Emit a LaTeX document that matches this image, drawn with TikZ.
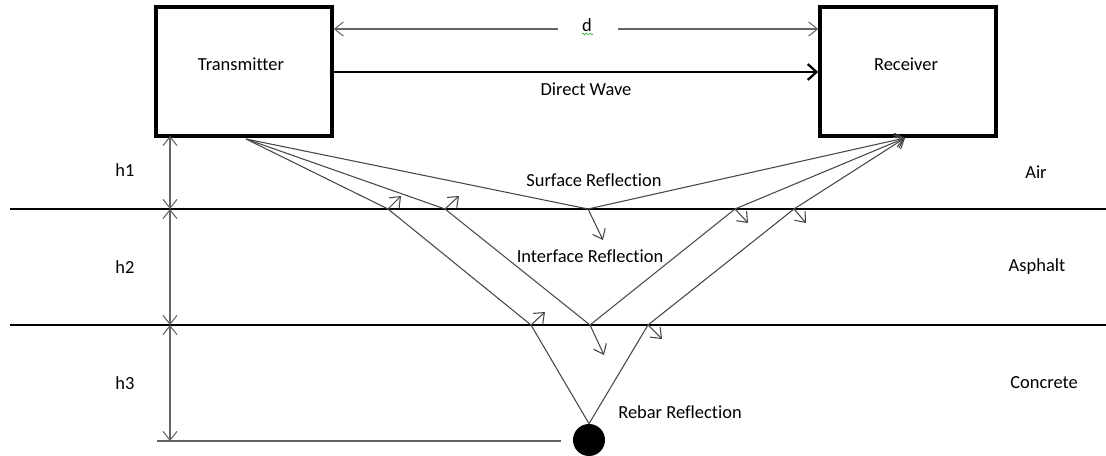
\documentclass[tikz,border=0pt]{standalone}
\usepackage{fontspec}
\setmainfont{Carlito}[Ligatures=NoCommon]
\usepackage{xcolor}
\usepackage{tikz}
\usetikzlibrary{arrows.meta,positioning,decorations.pathmorphing}
\definecolor{raygray}{RGB}{70, 70, 70}
\definecolor{dimgray}{RGB}{100, 100, 100}
\definecolor{spellgreen}{RGB}{60, 170, 60}

\begin{document}
\begin{tikzpicture}[x=0.02cm, y=-0.02cm, font=\fontsize{10.5}{12}\selectfont,
        box/.style={rectangle, draw=black, line width=2pt, minimum width=3.52cm, minimum height=2.58cm, inner sep=0pt},
        layer/.style={draw=black, line width=1.2pt},
        ray/.style={draw=raygray, line width=0.6pt},
        bounce/.style={->, >={Straight Barb[length=5pt, width=8pt]}, draw=raygray, line width=0.6pt},
        dim/.style={<->, >={Straight Barb[length=5pt, width=8pt]}, draw=dimgray, line width=0.6pt},
        dimend/.style={->, >={Straight Barb[length=5pt, width=8pt]}, draw=dimgray, line width=0.6pt},
        wave/.style={->, >={Straight Barb[length=5pt, width=9pt]}, line width=1.3pt},
        lbl/.style={inner sep=1pt}
    ]
        \useasboundingbox (0,0) rectangle (1106,456);
        % antennas
        \node[box] (tx) at (244,71.5) {};
        \node[box] (rx) at (908,71.5) {};
        \node[lbl] (txlbl) at (241,64) {Transmitter};
        \node[lbl] (rxlbl) at (906,64) {Receiver};
        % distance and direct wave
        \node[lbl] (dlbl) at (587,25) {d};
        \draw[spellgreen, line width=0.4pt, decorate, decoration={snake, amplitude=0.5pt, segment length=2pt}] (582,34) -- (593,34);
        \coordinate (dl) at (558,29);
        \coordinate (dr) at (618,29);
        \draw[dimend] (dl) -- (tx.east |- dl);
        \draw[dimend] (dr) -- (rx.west |- dr);
        \draw[wave] (tx.east |- 0,72) -- (rx.west |- 0,72);
        \node[lbl] (dwlbl) at (586,89) {Direct Wave};
        % layers
        \draw[layer] (10,209) -- (1106,209);
        \draw[layer] (10,325) -- (1106,325);
        \draw[draw=dimgray, line width=0.8pt] (157,441) -- (561,441);
        \coordinate (top) at (170,136);
        \coordinate (surf) at (170,209);
        \coordinate (intf) at (170,325);
        \coordinate (base) at (170,441);
        \draw[dim] (top) -- (surf);
        \draw[dim] (surf) -- (intf);
        \draw[dim] (intf) -- (base);
        \node[lbl] (h1) at (125,170) {h1};
        \node[lbl] (h2) at (125,267) {h2};
        \node[lbl] (h3) at (125,383) {h3};
        \node[lbl] (air) at (1036,172) {Air};
        \node[lbl] (asph) at (1037,267) {Asphalt};
        \node[lbl] (conc) at (1044,383) {Concrete};
        % rebar
        \node[circle, fill=black, minimum size=0.64cm, inner sep=0pt] (rebar) at (589,440) {};
        % ray points
        \coordinate (T) at (246,139);
        \coordinate (R) at (905,138);
        \coordinate (S) at (588,209);
        \coordinate (A1) at (388,209);
        \coordinate (A2) at (794,209);
        \coordinate (A3) at (445,209);
        \coordinate (A4) at (735,209);
        \coordinate (B1) at (531,325);
        \coordinate (B2) at (648,325);
        \coordinate (C) at (590,325);
        % free ends of the partial waves
        \coordinate (sA1) at (401,196);
        \coordinate (sA3) at (459,196);
        \coordinate (sS) at (603,240);
        \coordinate (sA4) at (748,223);
        \coordinate (sA2) at (806,223);
        \coordinate (sB1) at (545,312);
        \coordinate (sC) at (604,355);
        \coordinate (sB2) at (662,339);
        % surface reflection
        \draw[ray] (T) -- (S);
        \draw[bounce] (S) -- (R);
        \draw[bounce] (S) -- (sS);
        \node[lbl] (srlbl) at (594,180) {Surface Reflection};
        % interface reflection
        \draw[ray] (T) -- (A3) -- (C) -- (A4);
        \draw[bounce] (A4) -- (R);
        \draw[bounce] (A3) -- (sA3);
        \draw[bounce] (C) -- (sC);
        \draw[bounce] (A4) -- (sA4);
        \node[lbl] (irlbl) at (590,256) {Interface Reflection};
        % rebar reflection
        \draw[ray] (T) -- (A1) -- (B1) -- (rebar.north) -- (B2) -- (A2);
        \draw[bounce] (A2) -- (R);
        \draw[bounce] (A1) -- (sA1);
        \draw[bounce] (B1) -- (sB1);
        \draw[bounce] (B2) -- (sB2);
        \draw[bounce] (A2) -- (sA2);
        \node[lbl] (rrlbl) at (680,412) {Rebar Reflection};
    \end{tikzpicture}
\end{document}
